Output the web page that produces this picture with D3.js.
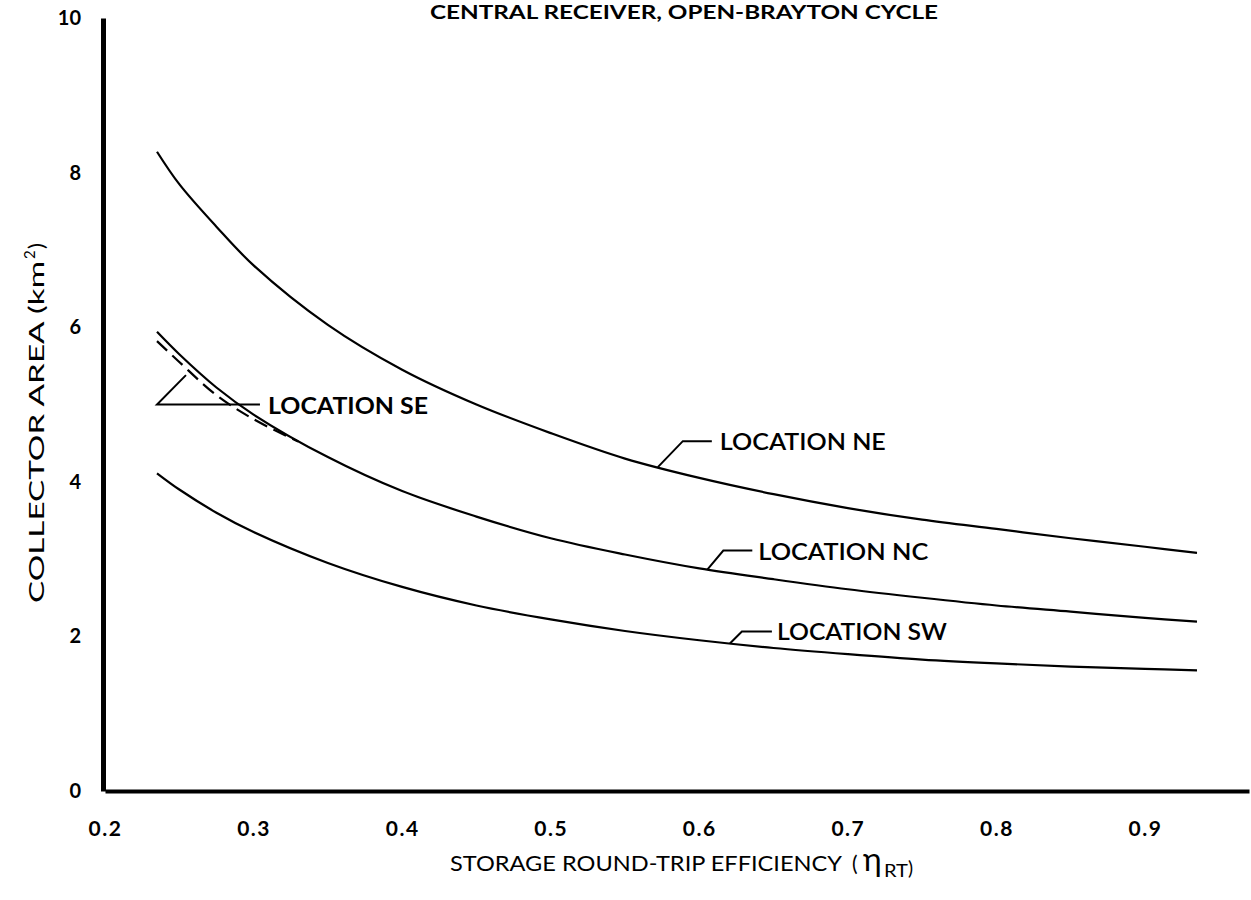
<!DOCTYPE html>
<html>
<head>
<meta charset="utf-8">
<script src="https://cdn.jsdelivr.net/npm/d3@7"></script>
<style>
  html, body { margin: 0; padding: 0; background: #fff; }
  svg { display: block; }
  text { font-family: "Lato", "Open Sans", sans-serif; fill: #000; }
</style>
</head>
<body>
<svg id="chart" width="1251" height="900"></svg>
<script>
// Storage round-trip efficiency (x) and collector area in km² (y) per site
const efficiency = [0.235, 0.25, 0.275, 0.3, 0.35, 0.4, 0.45, 0.5, 0.55, 0.6, 0.65, 0.7, 0.75, 0.8, 0.85, 0.9, 0.935];
const areaNE = [8.27, 7.85, 7.30, 6.80, 6.03, 5.45, 5.00, 4.63, 4.30, 4.05, 3.84, 3.66, 3.51, 3.39, 3.27, 3.16, 3.08];
const areaNC = [5.94, 5.65, 5.22, 4.87, 4.32, 3.88, 3.55, 3.27, 3.06, 2.88, 2.74, 2.61, 2.50, 2.40, 2.32, 2.24, 2.19];
const areaSW = [4.11, 3.90, 3.60, 3.35, 2.95, 2.64, 2.40, 2.22, 2.07, 1.95, 1.85, 1.77, 1.70, 1.65, 1.61, 1.58, 1.56];
const efficiencySE = [0.235, 0.25, 0.275, 0.3, 0.33];
const areaSE = [5.82, 5.55, 5.12, 4.81, 4.52];

const xTicks = [0.2, 0.3, 0.4, 0.5, 0.6, 0.7, 0.8, 0.9];
const yTicks = [0, 2, 4, 6, 8, 10];

const title = "CENTRAL RECEIVER, OPEN-BRAYTON CYCLE";

const svg = d3.select("#chart");

const x = d3.scaleLinear().domain([0.2, 0.97]).range([105, 1249]);
const y = d3.scaleLinear().domain([0, 10]).range([791, 18]);

// Title along the top edge of the sheet
svg.append("text")
  .attr("x", 684).attr("y", 19)
  .attr("text-anchor", "middle")
  .attr("font-size", 19).attr("font-weight", 700)
  .attr("textLength", 508).attr("lengthAdjust", "spacingAndGlyphs")
  .text(title);

// Axes
const xAxis = svg.append("g")
  .attr("transform", `translate(0,${y(0)})`)
  .call(d3.axisBottom(x).tickValues(xTicks).tickSize(0).tickPadding(30)
    .tickFormat(d3.format(".1f")));
xAxis.select(".domain").attr("stroke", "#000").attr("stroke-width", 4);
xAxis.selectAll(".tick text")
  .attr("font-size", 21).attr("font-weight", 700)
  .attr("font-family", "Lato, sans-serif").attr("letter-spacing", 1.5);

const yAxis = svg.append("g")
  .attr("transform", `translate(103,0)`)
  .call(d3.axisLeft(y).tickValues(yTicks).tickSize(0).tickPadding(22));
yAxis.select(".domain").attr("stroke", "#000").attr("stroke-width", 5);
yAxis.selectAll(".tick text")
  .attr("font-size", 20).attr("font-weight", 700)
  .attr("font-family", "Lato, sans-serif");

// X axis title: words, then the eta symbol with its RT subscript
const xtY = 871;
svg.append("text")
  .attr("x", 450).attr("y", xtY).attr("font-size", 21)
  .attr("textLength", 392).attr("lengthAdjust", "spacingAndGlyphs")
  .text("STORAGE ROUND-TRIP EFFICIENCY");
svg.append("text")
  .attr("x", 852).attr("y", xtY).attr("font-size", 21).text("(");
svg.append("text")
  .attr("x", 863).attr("y", xtY).attr("font-size", 32)
  .attr("font-family", "DejaVu Serif, serif").text("η");
svg.append("text")
  .attr("x", 884).attr("y", xtY + 6).attr("font-size", 17)
  .attr("textLength", 24).attr("lengthAdjust", "spacingAndGlyphs")
  .text("RT");
svg.append("text")
  .attr("x", 908).attr("y", xtY + 4).attr("font-size", 19).text(")");

// Y axis title, rotated, with km² superscript
const ytX = 44;
svg.append("text")
  .attr("transform", `translate(${ytX},603) rotate(-90)`)
  .attr("font-size", 22)
  .attr("textLength", 342).attr("lengthAdjust", "spacingAndGlyphs")
  .text("COLLECTOR AREA (km");
svg.append("text")
  .attr("transform", `translate(${ytX - 9},259) rotate(-90)`)
  .attr("font-size", 15).text("2");
svg.append("text")
  .attr("transform", `translate(${ytX},249) rotate(-90)`)
  .attr("font-size", 22).text(")");

// Curves
const line = d3.line().x(d => x(d[0])).y(d => y(d[1])).curve(d3.curveCatmullRom.alpha(0.5));
const series = [areaNE, areaNC, areaSW];
series.forEach(vals => {
  svg.append("path")
    .datum(efficiency.map((e, i) => [e, vals[i]]))
    .attr("fill", "none").attr("stroke", "#000").attr("stroke-width", 2.2)
    .attr("d", line);
});
svg.append("path")
  .datum(efficiencySE.map((e, i) => [e, areaSE[i]]))
  .attr("fill", "none").attr("stroke", "#000").attr("stroke-width", 2.2)
  .attr("stroke-dasharray", "14,7")
  .attr("d", line);

// Callout labels with leader lines
const callouts = [
  { name: "LOCATION NE", at: [0.5721, areaNE], pts: [[0, 0], [25, -26], [54, -26]], tx: 62, ty: -17, w: 166 },
  { name: "LOCATION NC", at: [0.6054, areaNC], pts: [[0, 0], [16, -19], [45, -19]], tx: 51, ty: -10, w: 170 },
  { name: "LOCATION SW", at: [0.6206, areaSW], pts: [[0, 0], [12, -12], [42, -12]], tx: 47, ty: -3, w: 170 }
];
function interp(vals, e) {
  return d3.scaleLinear().domain(efficiency).range(vals)(e);
}
callouts.forEach(c => {
  const px = x(c.at[0]), py = y(interp(c.at[1], c.at[0]));
  svg.append("path")
    .attr("d", d3.line()(c.pts.map(p => [px + p[0], py + p[1]])))
    .attr("fill", "none").attr("stroke", "#000").attr("stroke-width", 2);
  svg.append("text")
    .attr("x", px + c.tx).attr("y", py + c.ty)
    .attr("font-size", 22).attr("font-weight", 600)
    .attr("textLength", c.w).attr("lengthAdjust", "spacingAndGlyphs")
    .text(c.name);
});

// Bracket pointing at the dashed SE curve
const seY = y(5);
const seX0 = x(0.235);
svg.append("path")
  .attr("d", d3.line()([[x(0.2545), y(5.38)], [seX0, seY], [x(0.3043), seY]]))
  .attr("fill", "none").attr("stroke", "#000").attr("stroke-width", 2);
svg.append("text")
  .attr("x", 268).attr("y", seY + 9)
  .attr("font-size", 22).attr("font-weight", 700)
  .attr("textLength", 160).attr("lengthAdjust", "spacingAndGlyphs")
  .text("LOCATION SE");
</script>
</body>
</html>
